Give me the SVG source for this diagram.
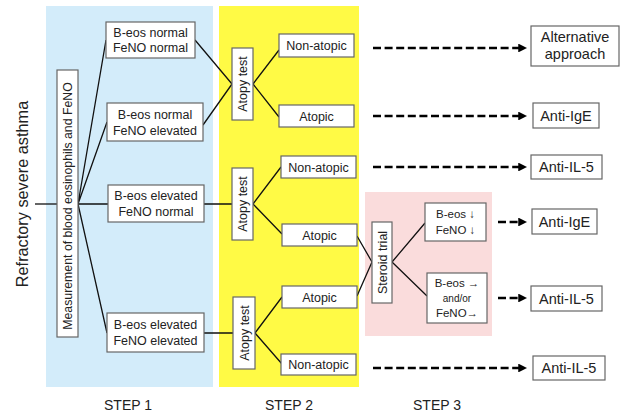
<svg xmlns="http://www.w3.org/2000/svg" width="622" height="415" viewBox="0 0 622 415">
<style>
text{font-family:"Liberation Sans",Arial,sans-serif;fill:#222}
.b{fill:#fff;stroke:#666;stroke-width:1.2}
.t{font-size:12.5px;text-anchor:middle}
.r{font-size:14.5px;text-anchor:middle}
.c{fill:none;stroke:#111;stroke-width:1.3}
.d{fill:none;stroke:#000;stroke-width:2.6;stroke-dasharray:8 3.6;marker-end:url(#ah)}
.s{font-size:14px;text-anchor:middle}
</style>
<defs>
<marker id="ah" viewBox="0 0 10 10" refX="2" refY="5" markerWidth="3.4" markerHeight="3.4" orient="auto" markerUnits="strokeWidth">
<path d="M0,0 L10,5 L0,10 z" fill="#000"/>
</marker>
</defs>
<rect x="0" y="0" width="622" height="415" fill="#fff"/>
<g id="panels">
<rect x="46" y="6" width="167" height="381" fill="#d3ecfa"/>
<rect x="219" y="6" width="140" height="381" fill="#fffa45"/>
<rect x="365" y="192" width="127" height="144" fill="#fadcdc"/>
</g>
<g id="connectors">
<path class="c" d="M35,204 H57"/>
<path class="c" d="M78,204 L106,40 M78,204 L107,122 M78,204 H108 M78,204 L107,333"/>
<path class="c" d="M195,40 L232,84 M203,125 L232,84"/>
<path class="c" d="M204,204 H232 M204,333 H233"/>
<path class="c" d="M253,84 L279,50 M253,84 L279,117"/>
<path class="c" d="M253,204 L281,167 M253,204 L282,234"/>
<path class="c" d="M255,333 L282,297 M255,333 L282,364"/>
<path class="c" d="M357,236 L372,262 M357,296 L372,262"/>
<path class="c" d="M392,262 L425,223 M392,262 L427,296"/>
<path class="d" d="M373,48 H520"/>
<path class="d" d="M373,116 H520"/>
<path class="d" d="M373,167 H520"/>
<path class="d" d="M498,222 H520"/>
<path class="d" d="M498,298 H520"/>
<path class="d" d="M373,368 H520"/>
</g>
<g id="title"><text x="0" y="0" font-size="16.3" text-anchor="middle" transform="translate(28,194) rotate(-90)">Refractory severe asthma</text></g>
<g id="measurement">
<rect class="b" x="57" y="70" width="21" height="267"/>
<text x="0" y="0" font-size="12.3" text-anchor="middle" transform="translate(72,206) rotate(-90)">Measurement of blood eosinophils and FeNO</text>
</g>
<g id="s1a"><rect class="b" x="106" y="22" width="89" height="36"/><text class="t" x="150.5" y="37">B-eos normal</text><text class="t" x="150.5" y="52">FeNO normal</text></g>
<g id="s1b"><rect class="b" x="107" y="103" width="96" height="38"/><text class="t" x="155" y="119">B-eos normal</text><text class="t" x="155" y="135">FeNO elevated</text></g>
<g id="s1c"><rect class="b" x="108" y="185" width="96" height="37"/><text class="t" x="156" y="200">B-eos elevated</text><text class="t" x="156" y="216">FeNO normal</text></g>
<g id="s1d"><rect class="b" x="107" y="313" width="97" height="39"/><text class="t" x="155.5" y="329">B-eos elevated</text><text class="t" x="155.5" y="345">FeNO elevated</text></g>
<g id="atopy1"><rect class="b" x="232" y="48" width="21" height="72"/><text class="t" font-size="13" x="0" y="0" transform="translate(247,84) rotate(-90)">Atopy test</text></g>
<g id="atopy2"><rect class="b" x="232" y="168" width="21" height="72"/><text class="t" font-size="13" x="0" y="0" transform="translate(247,204) rotate(-90)">Atopy test</text></g>
<g id="atopy3"><rect class="b" x="233" y="297" width="22" height="72"/><text class="t" font-size="13" x="0" y="0" transform="translate(248.5,333) rotate(-90)">Atopy test</text></g>
<g id="na1"><rect class="b" x="279" y="34" width="75" height="23"/><text class="t" x="316.5" y="50">Non-atopic</text></g>
<g id="a1"><rect class="b" x="279" y="105" width="75" height="22"/><text class="t" x="316.5" y="121">Atopic</text></g>
<g id="na2"><rect class="b" x="281" y="156" width="75" height="22"/><text class="t" x="318.5" y="172">Non-atopic</text></g>
<g id="a2"><rect class="b" x="282" y="224" width="75" height="22"/><text class="t" x="319.5" y="240">Atopic</text></g>
<g id="a3"><rect class="b" x="282" y="286" width="75" height="22"/><text class="t" x="319.5" y="302">Atopic</text></g>
<g id="na3"><rect class="b" x="281" y="354" width="75" height="21"/><text class="t" x="318.5" y="369">Non-atopic</text></g>
<g id="steroid"><rect class="b" x="372" y="222" width="20" height="81"/><text class="t" font-size="13" x="0" y="0" transform="translate(386.5,262.5) rotate(-90)">Steroid trial</text></g>
<g id="dec"><rect class="b" x="425" y="203" width="61" height="38"/><text x="455.5" y="218" font-size="11.5" text-anchor="middle">B-eos ↓</text><text x="455.5" y="234" font-size="11.5" text-anchor="middle">FeNO ↓</text></g>
<g id="same"><rect class="b" x="427" y="273" width="60" height="50"/><text x="457" y="287" font-size="11.5" text-anchor="middle">B-eos →</text><text x="457" y="302" font-size="10" text-anchor="middle">and/or</text><text x="457" y="317" font-size="11.5" text-anchor="middle">FeNO→</text></g>
<g id="alt"><rect class="b" x="531" y="26" width="88" height="40"/><text class="r" x="575" y="42">Alternative</text><text class="r" x="575" y="59">approach</text></g>
<g id="ige1"><rect class="b" x="533" y="103" width="66" height="25"/><text class="r" x="566" y="121">Anti-IgE</text></g>
<g id="il5a"><rect class="b" x="531" y="155" width="71" height="24"/><text class="r" x="566.5" y="172">Anti-IL-5</text></g>
<g id="ige2"><rect class="b" x="532" y="209" width="65" height="25"/><text class="r" x="564.5" y="227">Anti-IgE</text></g>
<g id="il5b"><rect class="b" x="531" y="286" width="71" height="25"/><text class="r" x="566.5" y="304">Anti-IL-5</text></g>
<g id="il5c"><rect class="b" x="533" y="356" width="72" height="24"/><text class="r" x="569" y="373">Anti-IL-5</text></g>
<g id="steps">
<text class="s" x="128" y="410">STEP 1</text>
<text class="s" x="289" y="410">STEP 2</text>
<text class="s" x="437" y="410">STEP 3</text>
</g>
</svg>
